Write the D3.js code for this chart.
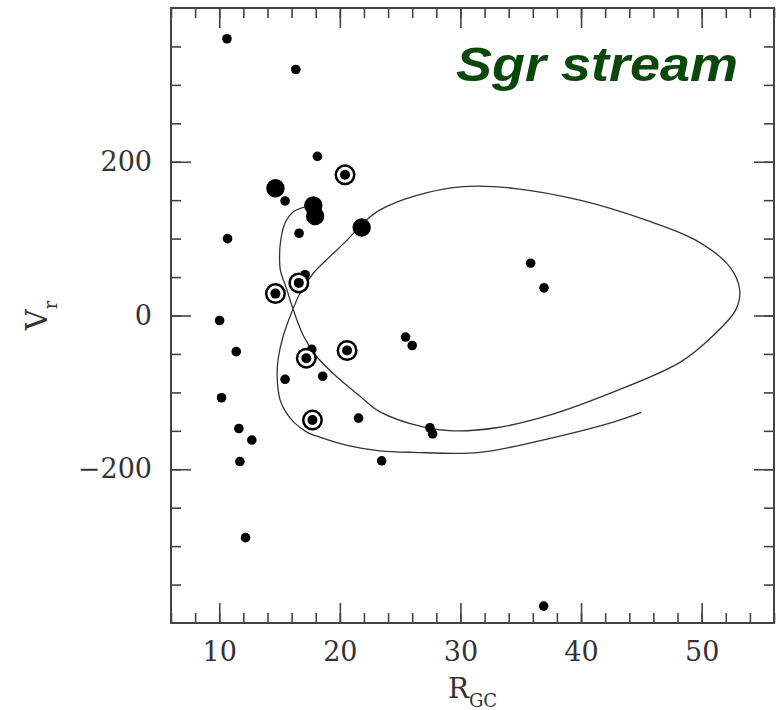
<!DOCTYPE html>
<html>
<head>
<meta charset="utf-8">
<script src="https://cdn.jsdelivr.net/npm/d3@7"></script>
<style>
  body { margin: 0; background: #fff; }
</style>
</head>
<body>
<div id="viz"></div>
<script>
// globular clusters, [R_GC (kpc), V_r (km/s)]
const smallDots = [
  [10.64, 360], [16.35, 320], [18.14, 207], [15.46, 149], [16.62, 107],
  [10.69, 100], [17.12, 53], [10.03, -6.5], [11.41, -47], [17.67, -44],
  [25.45, -28], [26.0, -39], [15.46, -83], [18.58, -79], [10.19, -107],
  [21.55, -133.5], [27.47, -146], [27.69, -154], [11.63, -147], [12.7, -162],
  [11.71, -190], [23.47, -189], [12.18, -289], [35.82, 68], [36.93, 36],
  [36.9, -378]
];
const bigDots = [[14.66, 165.5], [17.8, 143], [17.95, 129.5], [21.81, 114.5]];
const ringDots = [
  [20.43, 183], [16.6, 42.4], [14.66, 28.5], [17.22, -55.5], [20.6, -45.5], [17.73, -136]
];

// model orbit of the Sgr stream
const orbit = [
  [17.4, 142.6], [16.15, 135], [15.45, 120], [15.1, 98], [15.0, 76], [15.08, 58],
  [15.6, 34], [16.15, 7], [17.0, -27], [18.0, -52], [19.7, -79], [21.6, -104],
  [23.3, -125], [26.9, -145], [29.4, -150], [33.0, -146], [37.1, -131],
  [42.6, -100], [48.2, -61], [50.9, -27], [52.85, 8], [53.15, 34], [52.3, 64],
  [49.5, 98], [45.4, 124], [39.9, 150], [34.4, 165.5], [30.2, 167.6], [26.1, 155],
  [23.3, 137], [21.9, 120], [20.6, 98], [19.2, 77], [17.8, 55], [16.7, 29],
  [16.0, 4], [15.3, -27], [14.9, -55], [14.8, -78], [15.05, -110], [15.5, -125],
  [16.2, -139], [17.3, -152], [18.1, -157], [20.6, -169], [23.3, -176],
  [26.1, -178], [31.6, -178], [37.1, -161], [42.6, -139], [45.0, -126]
];

const xMajor = [10, 20, 30, 40, 50];
const xMinor = d3.range(6, 57, 2);
const yMajor = [-200, 0, 200];
const yMinor = d3.range(-350, 400, 50);

const W = 782, H = 710;
const margin = { top: 8, right: 8, bottom: 87, left: 171 };
const width = W - margin.left - margin.right;
const height = H - margin.top - margin.bottom;

const svg = d3.select("#viz").append("svg")
  .attr("width", W)
  .attr("height", H);

const g = svg.append("g").attr("transform", `translate(${margin.left},${margin.top})`);

const x = d3.scaleLinear().domain([6, 56]).range([0, width]);
const y = d3.scaleLinear().domain([-400, 400]).range([height, 0]);

function styleAxis(sel) {
  sel.select(".domain").remove();
  sel.attr("color", "#444");
  sel.selectAll("line").attr("stroke-width", 1.6);
  sel.selectAll("text")
     .attr("font-family", "DejaVu Serif")
     .attr("font-size", 27)
     .attr("fill", "#333");
}

// bottom + top
g.append("g").attr("transform", `translate(0,${height})`)
 .call(d3.axisBottom(x).tickValues(xMinor).tickSize(-10).tickFormat(""))
 .call(styleAxis);
g.append("g").attr("transform", `translate(0,${height})`)
 .call(d3.axisBottom(x).tickValues(xMajor).tickSize(-20).tickPadding(19))
 .call(styleAxis);
g.append("g")
 .call(d3.axisTop(x).tickValues(xMinor).tickSize(-10).tickFormat(""))
 .call(styleAxis);
g.append("g")
 .call(d3.axisTop(x).tickValues(xMajor).tickSize(-20).tickFormat(""))
 .call(styleAxis);

// left + right
g.append("g")
 .call(d3.axisLeft(y).tickValues(yMinor).tickSize(-10).tickFormat(""))
 .call(styleAxis);
g.append("g")
 .call(d3.axisLeft(y).tickValues(yMajor).tickSize(-20).tickPadding(19))
 .call(styleAxis);
g.append("g").attr("transform", `translate(${width},0)`)
 .call(d3.axisRight(y).tickValues(yMinor).tickSize(-10).tickFormat(""))
 .call(styleAxis);
g.append("g").attr("transform", `translate(${width},0)`)
 .call(d3.axisRight(y).tickValues(yMajor).tickSize(-20).tickFormat(""))
 .call(styleAxis);

// frame
g.append("rect")
 .attr("width", width)
 .attr("height", height)
 .attr("fill", "none")
 .attr("stroke", "#444")
 .attr("stroke-width", 2);

// orbit
const line = d3.line()
  .x(d => x(d[0]))
  .y(d => y(d[1]))
  .curve(d3.curveCatmullRom.alpha(0.5));

g.append("path")
 .datum(orbit)
 .attr("d", line)
 .attr("fill", "none")
 .attr("stroke", "#333")
 .attr("stroke-width", 1.3);

// clusters
g.selectAll(".small")
 .data(smallDots)
 .enter()
 .append("circle")
 .attr("class", "small")
 .attr("cx", d => x(d[0]))
 .attr("cy", d => y(d[1]))
 .attr("r", 4.8)
 .attr("fill", "#000");

g.selectAll(".big")
 .data(bigDots)
 .enter()
 .append("circle")
 .attr("class", "big")
 .attr("cx", d => x(d[0]))
 .attr("cy", d => y(d[1]))
 .attr("r", 9.2)
 .attr("fill", "#000");

const rings = g.selectAll(".ring")
  .data(ringDots)
  .enter()
  .append("g")
  .attr("class", "ring")
  .attr("transform", d => `translate(${x(d[0])},${y(d[1])})`);
rings.append("circle").attr("r", 10.5).attr("fill", "#000");
rings.append("circle").attr("r", 8).attr("fill", "#fff");
rings.append("circle").attr("r", 5).attr("fill", "#000");

// axis titles
const xt = svg.append("text")
  .attr("x", margin.left + width / 2)
  .attr("y", 698)
  .attr("text-anchor", "middle")
  .attr("font-family", "DejaVu Serif")
  .attr("fill", "#333");
xt.append("tspan").attr("font-size", 28).text("R");
xt.append("tspan").attr("font-size", 18).attr("dy", 8.5).text("GC");

const yt = svg.append("text")
  .attr("transform", `translate(47,${margin.top + height / 2}) rotate(-90)`)
  .attr("text-anchor", "middle")
  .attr("font-family", "DejaVu Serif")
  .attr("fill", "#333");
yt.append("tspan").attr("font-size", 29).text("V");
yt.append("tspan").attr("font-size", 18).attr("dy", 10).text("r");

// label
svg.append("text")
 .attr("x", 456)
 .attr("y", 81)
 .attr("font-family", "Liberation Sans, Arial, sans-serif")
 .attr("font-weight", "bold")
 .attr("font-style", "italic")
 .attr("font-size", 48)
 .attr("textLength", 282)
 .attr("lengthAdjust", "spacingAndGlyphs")
 .attr("fill", "#0a470a")
 .text("Sgr stream");
</script>
</body>
</html>
